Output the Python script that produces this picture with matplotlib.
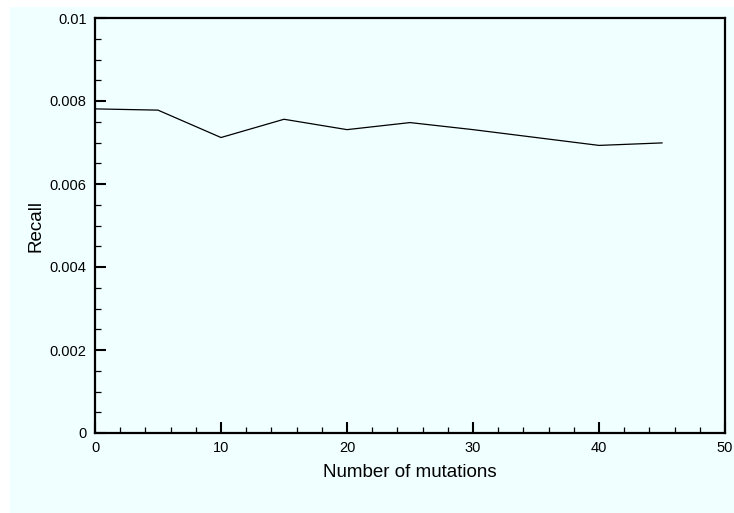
import matplotlib
matplotlib.use("Agg")
import matplotlib.pyplot as plt
from matplotlib.patches import Rectangle
from matplotlib.ticker import MultipleLocator, FixedFormatter, FixedLocator

plt.rcParams['font.family'] = ['Liberation Sans', 'DejaVu Sans']

# recall vs number of mutations
mutations = [0, 5, 10, 15, 20, 25, 30, 35, 40, 45]
recall = [0.00781, 0.00778, 0.00712, 0.00756, 0.00731, 0.00748, 0.00731, 0.00712, 0.00693, 0.00699]

xticks = [0, 10, 20, 30, 40, 50]
yticks = [0, 0.002, 0.004, 0.006, 0.008, 0.01]
ytick_labels = ["0", "0.002", "0.004", "0.006", "0.008", "0.01"]

bg = "#f0ffff"
fig = plt.figure(figsize=(7.34, 5.13), dpi=100, facecolor="white")
# panel background, leaving a thin white border top/left
fig.patches.append(Rectangle((10 / 734, 0), 1 - 10 / 734, 1 - 7 / 513,
                             transform=fig.transFigure, facecolor=bg,
                             edgecolor="none", zorder=-10))

ax = fig.add_axes([95 / 734, 1 - 433 / 513, 630 / 734, 415 / 513])
ax.set_facecolor(bg)
ax.plot(mutations, recall, color="black", linewidth=0.9)

ax.set_xlim(0, 50)
ax.set_ylim(0, 0.01)
ax.xaxis.set_major_locator(FixedLocator(xticks))
ax.xaxis.set_minor_locator(MultipleLocator(2))
ax.yaxis.set_major_locator(FixedLocator(yticks))
ax.yaxis.set_major_formatter(FixedFormatter(ytick_labels))
ax.yaxis.set_minor_locator(MultipleLocator(0.0005))

for s in ax.spines.values():
    s.set_linewidth(1.6)

ax.tick_params(which="both", direction="in", top=False, right=False, labelsize=10.5)
ax.tick_params(which="major", length=8, width=1.5, pad=6)
ax.tick_params(which="minor", length=4, width=0.9)

ax.set_xlabel("Number of mutations", fontsize=13.5, labelpad=6)
ax.set_ylabel("Recall", fontsize=13.5, labelpad=4)

fig.savefig("out.png", dpi=100, facecolor=fig.get_facecolor())
